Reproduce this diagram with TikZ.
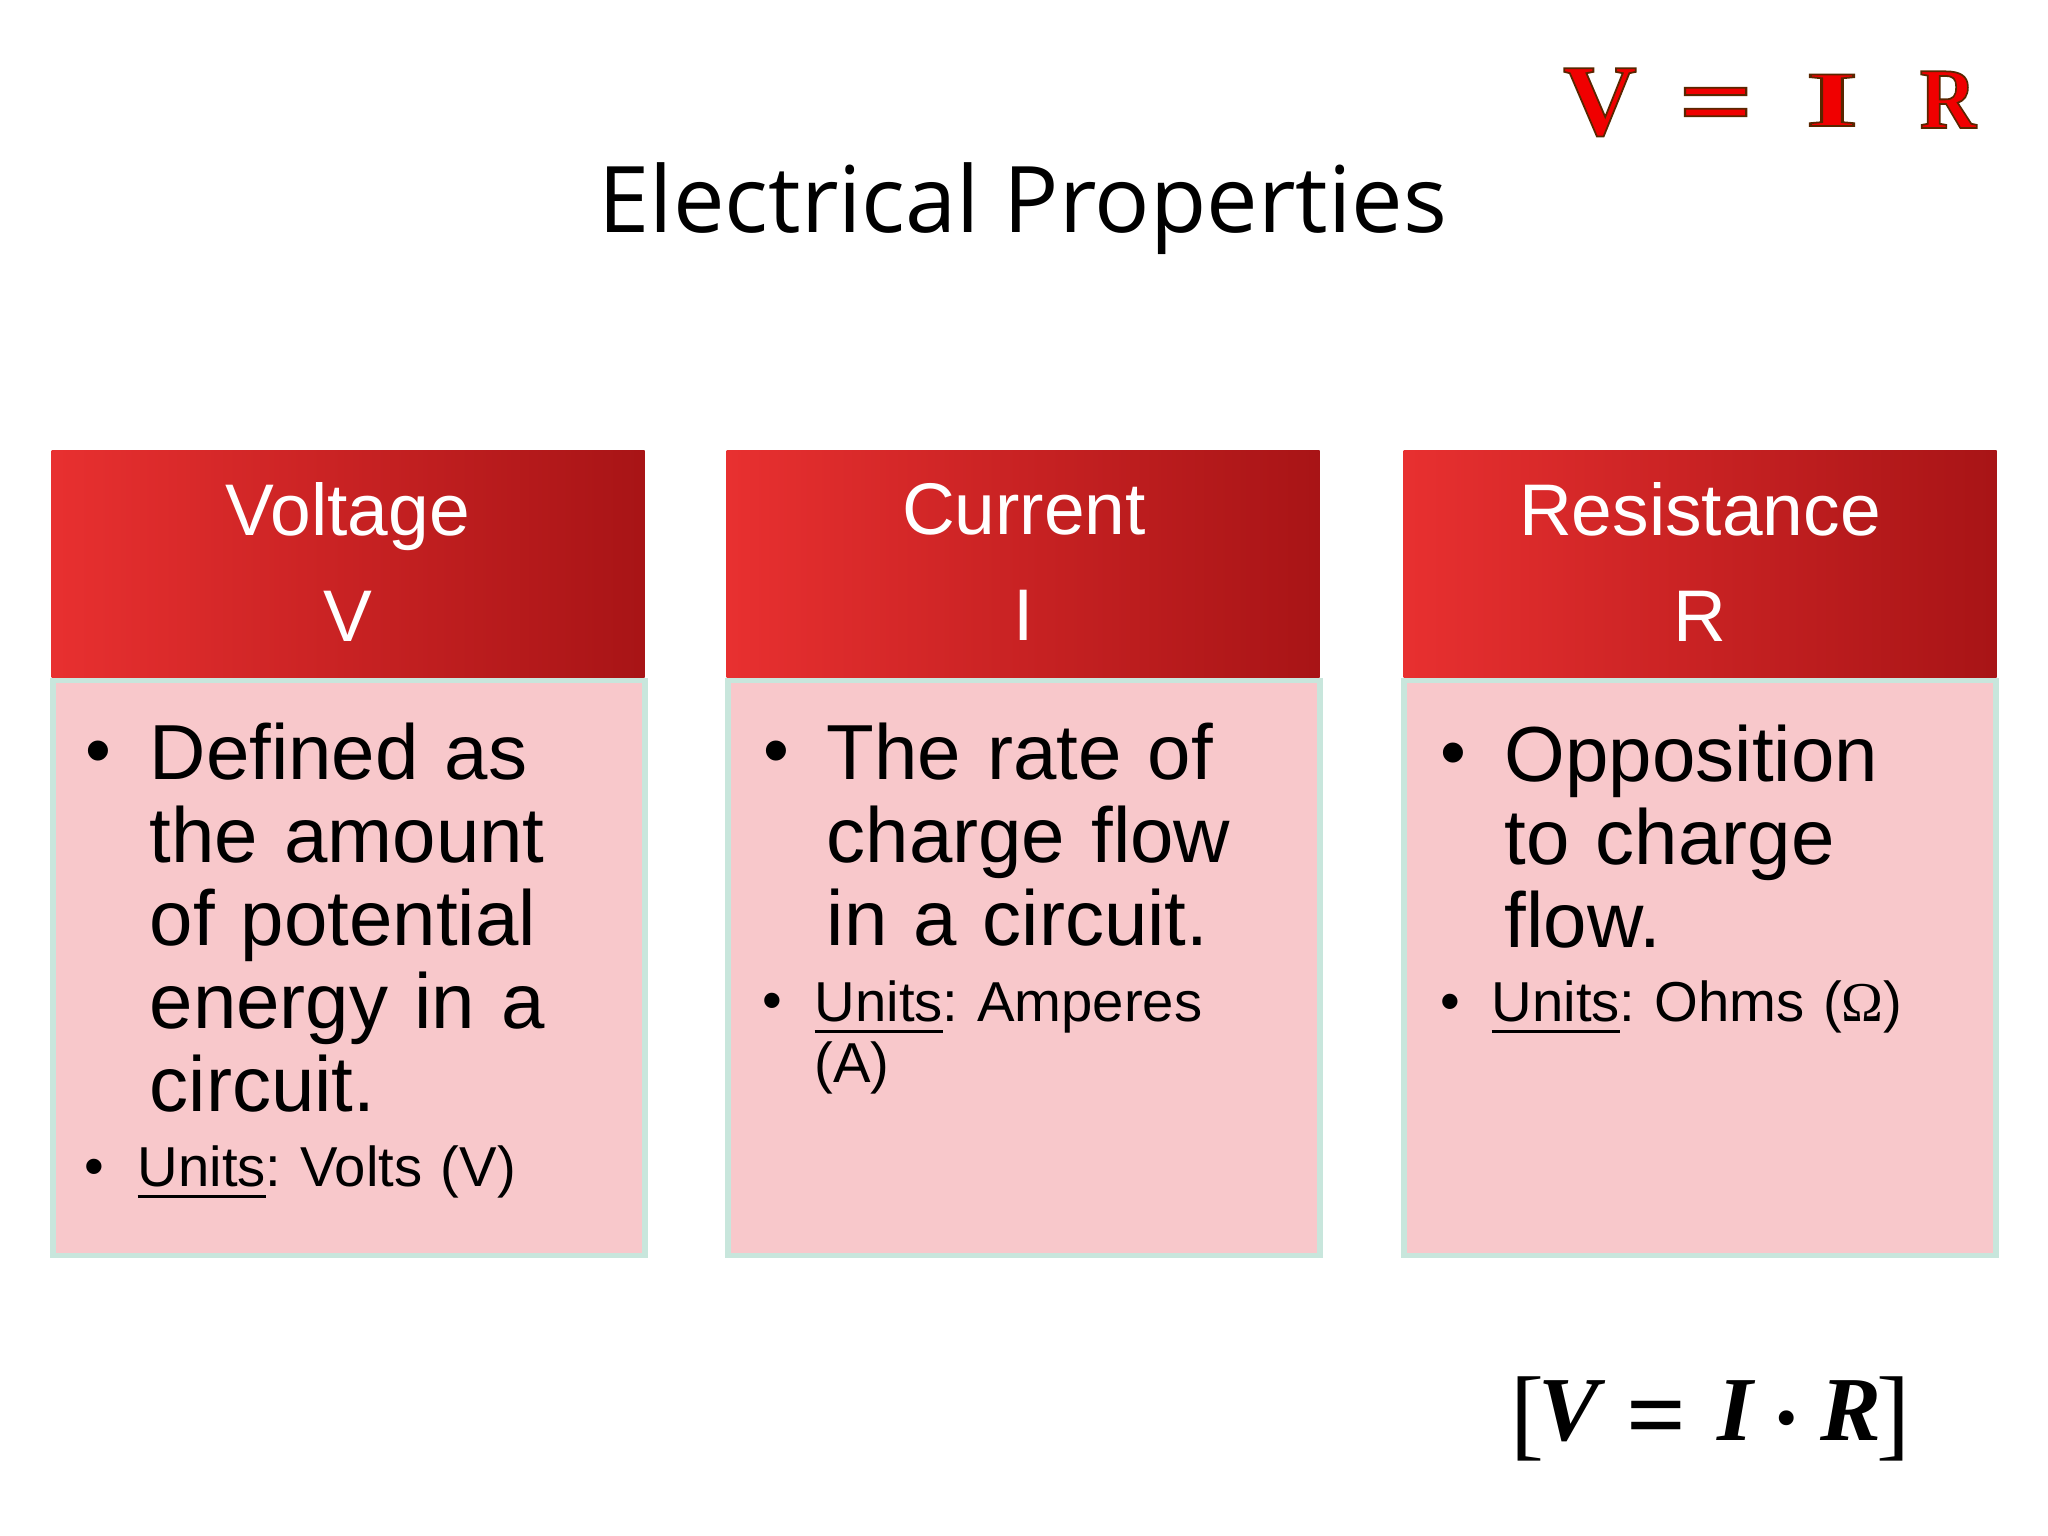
\documentclass[tikz,border=0pt]{standalone}
\usepackage{fontspec}
\setmainfont{Liberation Sans}
\newfontfamily\titlefont{Open Sans}
\newfontfamily\lawfont{Liberation Serif}
\definecolor{headleft}{RGB}{232,48,48}
\definecolor{headright}{RGB}{168,20,22}
\definecolor{bodypink}{RGB}{248,200,203}
\definecolor{bodyedge}{RGB}{200,230,220}
\definecolor{lawred}{RGB}{240,0,0}
\frenchspacing
\newcommand{\unitsline}[1]{\leavevmode\setbox0\hbox{#1}\rlap{\rule[-3.4pt]{\wd0}{1pt}}\box0 }
\newcommand{\lawoutline}[1]{\special{pdf:code 0.35 0.15 0 RG 0.5 w 2 Tr}#1\special{pdf:code 0 Tr}}
\tikzset{
	headbox/.style={draw=none,rectangle,left color=headleft,right color=headright,minimum width=593*0.01cm,minimum height=227*0.01cm,inner sep=0pt},
	bodybox/.style={draw=bodyedge,line width=1.6pt,fill=bodypink,rectangle,minimum width=592*0.01cm,minimum height=575*0.01cm,inner sep=0pt},
	headtext/.style={text=white,align=center,font=\fontsize{20.8}{29.9}\selectfont,inner sep=0pt},
	bigtext/.style={anchor=north west,text width=470*0.01cm,align=left,inner sep=0pt,font=\fontsize{22.2}{23.6}\selectfont},
	unittext/.style={anchor=north west,text width=480*0.01cm,align=left,inner sep=0pt,font=\fontsize{16}{17.4}\selectfont},
	bigdot/.style={anchor=center,inner sep=0pt,font=\fontsize{21}{23.6}\selectfont},
	unitdot/.style={anchor=center,inner sep=0pt,font=\fontsize{16}{17.4}\selectfont},
	lawletter/.style={anchor=base,inner sep=0pt,text=lawred},
	rulepart/.style={anchor=base,inner sep=0pt,font=\lawfont\fontsize{26}{30}\selectfont\bfseries\itshape},
}
\begin{document}
\begin{tikzpicture}[x=0.01cm,y=-0.01cm]
	\useasboundingbox (0,0) rectangle (2048,1536);
	% title and the law
	\node[anchor=base,inner sep=0pt,font=\titlefont\fontsize{26.15}{30}\selectfont] (title) at (1023,232) {Electrical Properties};
	\node[lawletter,font=\lawfont\fontsize{29}{30}\selectfont\bfseries] (lawV) at (1600,135) {\lawoutline{V}};
	\node[lawletter,xscale=1.25,font=\lawfont\fontsize{30}{30}\selectfont\bfseries] (lawEq) at (1716,137) {\lawoutline{=}};
	\node[lawletter,xscale=1.7,font=\lawfont\fontsize{22.4}{30}\selectfont\bfseries] (lawI) at (1832,126) {\lawoutline{I}};
	\node[lawletter,xscale=0.9,font=\lawfont\fontsize{24.6}{30}\selectfont\bfseries] (lawR) at (1948,128) {\lawoutline{R}};
	% voltage
	\node[bodybox] (voltageBody) at (349,968) {};
	\node[headbox] (voltageHead) at (348,564) {};
	\node[headtext] (voltageTitle) at (348,562) {Voltage\\V};
	\node[bigdot] (voltageDot) at (98,758) {\textbullet};
	\node[bigtext] (voltageText) at (149,722) {Defined as\\the amount\\of potential\\energy in a\\circuit.};
	\node[unitdot] (voltageUnitDot) at (94,1172) {\textbullet};
	\node[unittext] (voltageUnit) at (137,1145) {\unitsline{Units}: Volts (V)};
	% current
	\node[bodybox] (currentBody) at (1024,968) {};
	\node[headbox] (currentHead) at (1023,564) {};
	\node[headtext] (currentTitle) at (1024,562) {Current\\I};
	\node[bigdot] (currentDot) at (776,758) {\textbullet};
	\node[bigtext] (currentText) at (826,722) {The rate of\\charge flow\\in a circuit.};
	\node[unitdot] (currentUnitDot) at (772,1006) {\textbullet};
	\node[unittext] (currentUnit) at (814,980) {\unitsline{Units}: Amperes\\(A)};
	% resistance
	\node[bodybox] (resistanceBody) at (1700,968) {};
	\node[headbox] (resistanceHead) at (1700,564) {};
	\node[headtext] (resistanceTitle) at (1700,562) {Resistance\\R};
	\node[bigdot] (resistanceDot) at (1453,760) {\textbullet};
	\node[bigtext] (resistanceText) at (1504,724) {Opposition\\to charge\\flow.};
	\node[unitdot] (resistanceUnitDot) at (1450,1007) {\textbullet};
	\node[unittext] (resistanceUnit) at (1491,980) {\unitsline{Units}: Ohms ({\lawfont Ω})};
	% the rule at the bottom
	\node[rulepart,font=\lawfont\fontsize{29}{30}\selectfont] (ruleOpen) at (1527,1447) {[};
	\node[rulepart] (ruleV) at (1569,1440) {V};
	\node[rulepart,font=\lawfont\fontsize{30}{30}\selectfont\bfseries] (ruleEq) at (1657,1450) {=};
	\node[rulepart] (ruleI) at (1735,1440) {I};
	\node[rulepart,font=\lawfont\fontsize{26}{30}\selectfont\bfseries] (ruleDot) at (1787,1448) {·};
	\node[rulepart] (ruleR) at (1851,1440) {R};
	\node[rulepart,font=\lawfont\fontsize{29}{30}\selectfont] (ruleClose) at (1893,1447) {]};
\end{tikzpicture}
\end{document}
